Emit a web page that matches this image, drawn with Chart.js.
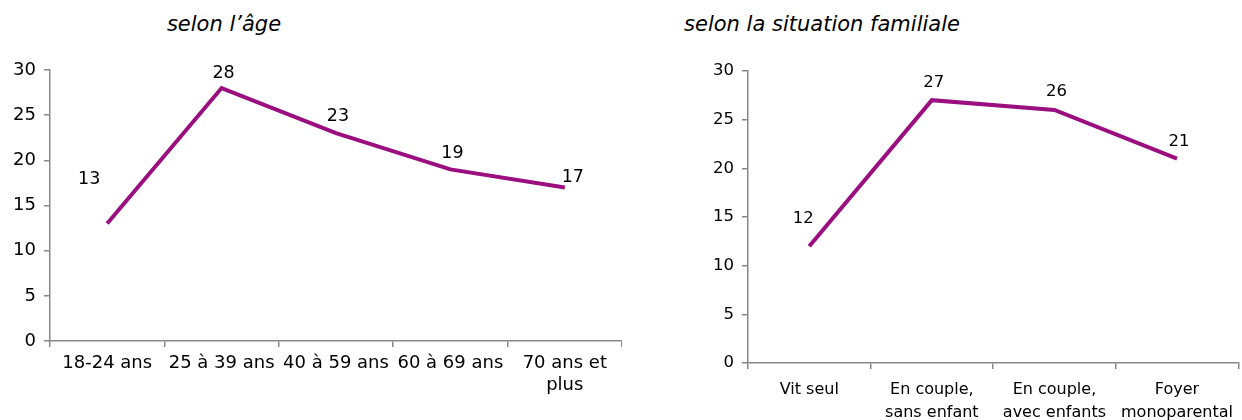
<!DOCTYPE html>
<html>
<head>
<meta charset="utf-8">
<script src="https://cdn.jsdelivr.net/npm/chart.js@4"></script>
<style>
    body { margin: 0; background: #fff; width: 1242px; height: 420px; overflow: hidden; position: relative; font-family: "DejaVu Sans", sans-serif; }
    .box { position: absolute; top: 0; height: 420px; }
    .title { position: absolute; top: 12px; font-style: italic; font-size: 21px; color: #000; white-space: nowrap; transform: translateX(-50%); }
</style>
</head>
<body>
<div class="title" style="left: 224px;">selon l’âge</div>
<div class="title" style="left: 822px;">selon la situation familiale</div>
<div class="box" style="left: 0; width: 622px;"><canvas id="age-chart"></canvas></div>
<div class="box" style="left: 640px; width: 602px;"><canvas id="family-chart"></canvas></div>
<script>
    // Data
    const ageLabels = ["18-24 ans", "25 à 39 ans", "40 à 59 ans", "60 à 69 ans", ["70 ans et", "plus"]];
    const ageValues = [13, 28, 23, 19, 17];

    const familyLabels = ["Vit seul", ["En couple,", "sans enfant"], ["En couple,", "avec enfants"], ["Foyer", "monoparental"]];
    const familyValues = [12, 27, 26, 21];

    const yTicks = [0, 5, 10, 15, 20, 25, 30];

    // label nudges (px) so the value labels sit where the original put them
    const ageLabelNudge = [[-18, -44], [2, -15], [2, -17], [2, -16], [8, -10]];
    const familyLabelNudge = [[-6, -27], [2, -17], [2, -18], [2, -17]];

    const LINE_COLOR = "#9A0E80";
    const AXIS_COLOR = "#888888";

    const valueLabels = {
        id: "valueLabels",
        afterDatasetsDraw(chart, args, opts) {
            const ctx = chart.ctx;
            const meta = chart.getDatasetMeta(0);
            const values = chart.data.datasets[0].data;
            ctx.save();
            ctx.font = opts.size + "px 'DejaVu Sans'";
            ctx.fillStyle = "#000";
            ctx.textAlign = "center";
            ctx.textBaseline = "middle";
            meta.data.forEach((pt, i) => {
                const n = opts.nudge[i] || [0, -16];
                ctx.fillText(String(values[i]), pt.x + n[0], pt.y + n[1]);
            });
            ctx.restore();
        }
    };

    function makeChart(id, labels, values, cfg) {
        const ctx = document.getElementById(id).getContext("2d");
        return new Chart(ctx, {
            type: "line",
            data: {
                labels: labels,
                datasets: [{
                    data: values,
                    borderColor: LINE_COLOR,
                    borderWidth: 4,
                    pointRadius: 0,
                    tension: 0,
                    fill: false,
                }],
            },
            options: {
                responsive: true,
                maintainAspectRatio: false,
                animation: false,
                layout: { padding: { top: cfg.top, right: 0, bottom: 0, left: 0 } },
                plugins: {
                    legend: { display: false },
                    tooltip: { enabled: false },
                    valueLabels: { size: cfg.labelSize, nudge: cfg.nudge },
                },
                scales: {
                    x: {
                        offset: true,
                        grid: { offset: true, drawOnChartArea: false, color: AXIS_COLOR, tickLength: 6, lineWidth: 1.5 },
                        border: { color: AXIS_COLOR, width: 1.5 },
                        ticks: {
                            color: "#000",
                            font: { family: "DejaVu Sans", size: cfg.xTickSize, lineHeight: cfg.lineHeight },
                            padding: cfg.xPad,
                            maxRotation: 0,
                            autoSkip: false,
                        },
                        afterFit(scale) { scale.height = cfg.xHeight; },
                    },
                    y: {
                        min: 0,
                        max: 30,
                        afterBuildTicks(scale) { scale.ticks = yTicks.map(v => ({ value: v })); },
                        grid: { drawOnChartArea: false, color: AXIS_COLOR, tickLength: 6, lineWidth: 1.5 },
                        border: { color: AXIS_COLOR, width: 1.5 },
                        ticks: {
                            color: "#000",
                            font: { family: "DejaVu Sans", size: cfg.yTickSize },
                            padding: 8,
                        },
                        afterFit(scale) { scale.width = cfg.yWidth; },
                    },
                },
            },
            plugins: [valueLabels],
        });
    }

    makeChart("age-chart", ageLabels, ageValues, {
        top: 70, yWidth: 50, xHeight: 79, xTickSize: 18, yTickSize: 18, labelSize: 17.5, lineHeight: 1.22, xPad: 5, nudge: ageLabelNudge,
    });

    makeChart("family-chart", familyLabels, familyValues, {
        top: 71, yWidth: 108, xHeight: 57, xTickSize: 16, yTickSize: 16.5, labelSize: 16.5, lineHeight: 1.45, xPad: 9, nudge: familyLabelNudge,
    });
</script>
</body>
</html>
